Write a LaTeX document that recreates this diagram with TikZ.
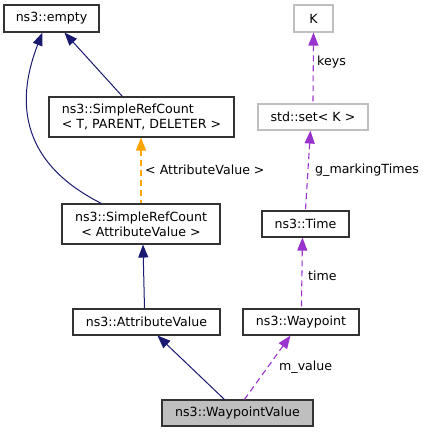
\documentclass[tikz,border=0pt]{standalone}
\usepackage{fontspec}
\setmainfont{DejaVu Sans}
\usetikzlibrary{arrows.meta}
\definecolor{navy}{RGB}{25,25,112}
\definecolor{orng}{RGB}{255,165,0}
\definecolor{purp}{RGB}{154,50,205}
\definecolor{lgray}{RGB}{191,191,191}
\tikzset{
  box/.style={draw=black!80, line width=1.1pt, fill=white, inner sep=0pt, font=\fontsize{12.6}{15}\selectfont},
  graybox/.style={box, draw=lgray},
  navyedge/.style={draw=navy, line width=1pt, {Triangle[length=13pt,width=10pt]}-},
  orangeedge/.style={draw=orng, line width=1.3pt, dash pattern=on 6pt off 4pt, {Triangle[length=13pt,width=10pt]}-},
  purpedge/.style={draw=purp, line width=1.1pt, dash pattern=on 6pt off 4pt, {Triangle[length=13pt,width=10pt]}-},
  lbl/.style={anchor=west, inner sep=0pt, font=\fontsize{12.6}{15}\selectfont}
}
\begin{document}
\begin{tikzpicture}[x=1pt,y=-1pt]
\useasboundingbox (0,0) rectangle (429,432);
\node[box, minimum width=95pt, minimum height=27pt] (empty) at (51.5,18.5) {ns3::empty};
\node[box, minimum width=185pt, minimum height=40pt, align=left] (srct) at (141.5,117) {ns3::SimpleRefCount\\< T, PARENT, DELETER >};
\node[box, minimum width=158pt, minimum height=40pt, align=center] (srcav) at (141,224) {ns3::SimpleRefCount\\< AttributeValue >};
\node[box, minimum width=147pt, minimum height=26pt] (av) at (146.5,322) {ns3::AttributeValue};
\node[box, minimum width=116pt, minimum height=26pt] (wp) at (301,322) {ns3::Waypoint};
\node[box, fill=lgray, minimum width=151pt, minimum height=26pt] (wpv) at (237.5,413) {ns3::WaypointValue};
\node[graybox, minimum width=39pt, minimum height=27pt] (k) at (313.5,18.5) {K};
\node[graybox, minimum width=110pt, minimum height=26pt] (set) at (313,117) {std::set< K >};
\node[box, minimum width=87pt, minimum height=26pt] (time) at (305.5,224) {ns3::Time};

% inheritance
\draw[navyedge] ([xshift=61pt]empty.south west) -- ([xshift=74pt]srct.north west);
\draw[navyedge] ([xshift=39pt]empty.south west) .. controls (18,95) and (15,160) .. ([xshift=40pt]srcav.north west);
\draw[orangeedge] (srcav.north |- srct.south) -- (srcav.north);
\node[lbl] (lavt) at (145,170) {< AttributeValue >};
\draw[navyedge] ([xshift=2pt]srcav.south) -- ([xshift=-2pt]av.north);
\draw[navyedge] ([xshift=85pt]av.south west) -- ([xshift=63pt]wpv.north west);

% usage
\draw[purpedge] ([xshift=48pt]wp.south west) -- ([xshift=83pt]wpv.north west);
\node[lbl] (lmv) at (279,367) {m\_value};
\draw[purpedge] ([xshift=41pt]time.south west) -- ([xshift=59pt]wp.north west);
\node[lbl] (ltime) at (308,276) {time};
\draw[purpedge] ([xshift=53pt]set.south west) -- ([xshift=44pt]time.north west);
\node[lbl] (lgm) at (315,170) {g\_markingTimes};
\draw[purpedge] (k.south) -- (set.north);
\node[lbl] (lkeys) at (317,62) {keys};
\end{tikzpicture}
\end{document}
